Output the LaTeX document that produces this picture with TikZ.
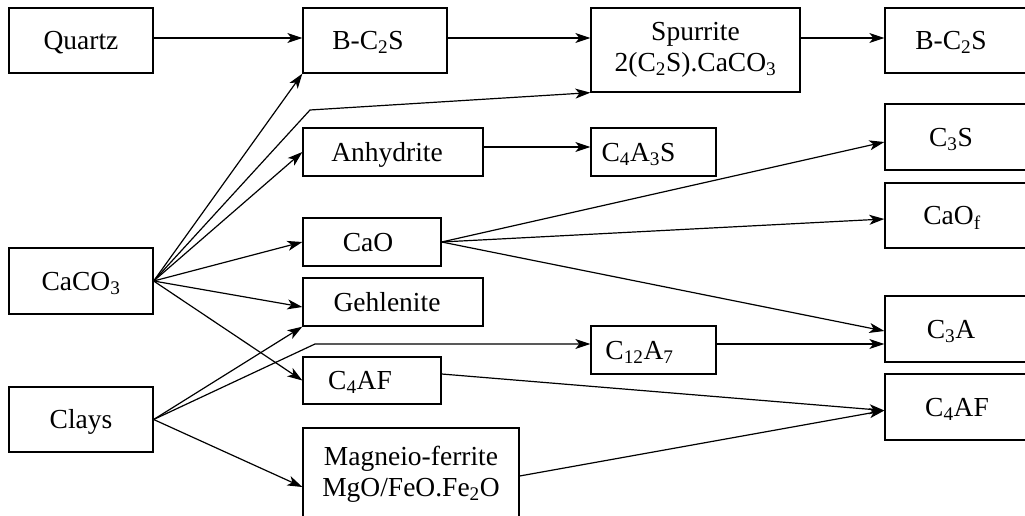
\documentclass[tikz,border=0pt]{standalone}
\usepackage{fontspec}
\setmainfont{Liberation Serif}
\usetikzlibrary{arrows.meta}
\newcommand{\sub}[1]{\textsubscript{#1}}
\begin{document}
\begin{tikzpicture}[x=1pt,y=-1pt,
  box/.style={draw, line width=1.3pt, inner sep=0pt,
    font=\fontsize{27.5pt}{31pt}\selectfont},
  one/.style={text height=18.5pt, text depth=0pt},
  arr/.style={line width=1.2pt, -{Stealth[length=15pt,width=10pt,inset=4pt]}}]
\useasboundingbox (0,0) rectangle (1025,516);
\clip (0,0) rectangle (1025,516);

% sources
\node[box, one, minimum width=144pt, minimum height=65pt] (quartz) at (81,40.5) {Quartz};
\node[box, one, minimum width=144pt, minimum height=66pt] (caco3) at (81,281) {CaCO\sub{3}};
\node[box, one, minimum width=144pt, minimum height=65pt] (clays) at (81,419.5) {Clays};

% intermediate phases
\node[box, one, minimum width=144pt, minimum height=65pt] (bcs) at (375,40.5) {B-C\sub{2}S\hspace*{14pt}};
\node[box, one, minimum width=180pt, minimum height=48pt] (anh) at (393,152) {Anhydrite\hspace*{12pt}};
\node[box, one, minimum width=138pt, minimum height=48pt] (cao) at (372,242) {CaO\hspace*{8pt}};
\node[box, one, minimum width=180pt, minimum height=48pt] (geh) at (393,302) {Gehlenite\hspace*{12pt}};
\node[box, one, minimum width=138pt, minimum height=47pt] (c4afm) at (372,380.5) {C\sub{4}AF\hspace*{24pt}};
\node[box, minimum width=216pt, minimum height=92pt, align=center] (mag) at (411,474)
  {Magneio-ferrite\\MgO/FeO.Fe\sub{2}O};

\node[box, minimum width=209pt, minimum height=84pt, align=center] (spur) at (695.5,50)
  {Spurrite\\2(C\sub{2}S).CaCO\sub{3}};
\node[box, one, minimum width=125pt, minimum height=48pt] (c4a3s) at (653.5,152) {C\sub{4}A\sub{3}S\hspace*{30pt}};
\node[box, one, minimum width=125pt, minimum height=48pt] (c12a7) at (653.5,350) {C\sub{12}A\sub{7}\hspace*{28pt}};

% clinker phases
\node[box, one, minimum width=150pt, minimum height=65pt] (bcsr) at (960,40.5) {B-C\sub{2}S\hspace*{18pt}};
\node[box, one, minimum width=150pt, minimum height=66pt] (c3s) at (960,137) {C\sub{3}S\hspace*{18pt}};
\node[box, one, minimum width=150pt, minimum height=65pt] (caof) at (960,215.5) {CaO\sub{f}\hspace*{16pt}};
\node[box, one, minimum width=150pt, minimum height=66pt] (c3a) at (960,329) {C\sub{3}A\hspace*{18pt}};
\node[box, one, minimum width=150pt, minimum height=66pt] (c4afr) at (960,407) {C\sub{4}AF\hspace*{6pt}};

% bend points
\coordinate (k1) at (310,110);
\coordinate (k2) at (315,344);

% top row
\draw[arr] ([yshift=2.5pt]quartz.east) -- ([yshift=2.5pt]bcs.west);
\draw[arr] ([yshift=2.5pt]bcs.east) -- ([yshift=12pt]spur.west);
\draw[arr] ([yshift=12pt]spur.east) -- ([yshift=2.5pt]bcsr.west);

% from CaCO3
\draw[arr] (caco3.east) -- (bcs.south west);
\draw[arr] (caco3.east) -- (k1) -- (spur.south west);
\draw[arr] (caco3.east) -- (anh.west);
\draw[arr] (caco3.east) -- (cao.west);
\draw[arr] (caco3.east) -- ([yshift=-5pt]geh.west);
\draw[arr] (caco3.east) -- (c4afm.west);

% from clays
\draw[arr] (clays.east) -- (geh.south west);
\draw[arr] (clays.east) -- (k2) -- ([yshift=6pt]c12a7.west);
\draw[arr] (clays.east) -- ([yshift=-13pt]mag.west);

% onward reactions
\draw[arr] ([yshift=5pt]anh.east) -- ([yshift=5pt]c4a3s.west);
\draw[arr] (cao.east) -- ([yshift=-5pt]c3s.west);
\draw[arr] (cao.east) -- ([yshift=-3.5pt]caof.west);
\draw[arr] (cao.east) -- ([yshift=-2pt]c3a.west);
\draw[arr] ([yshift=6pt]c12a7.east) -- ([yshift=-15pt]c3a.west);
\draw[arr] ([yshift=6.5pt]c4afm.east) -- ([yshift=-3.5pt]c4afr.west);
\draw[arr] ([yshift=-2pt]mag.east) -- ([yshift=-3.5pt]c4afr.west);
\end{tikzpicture}
\end{document}
